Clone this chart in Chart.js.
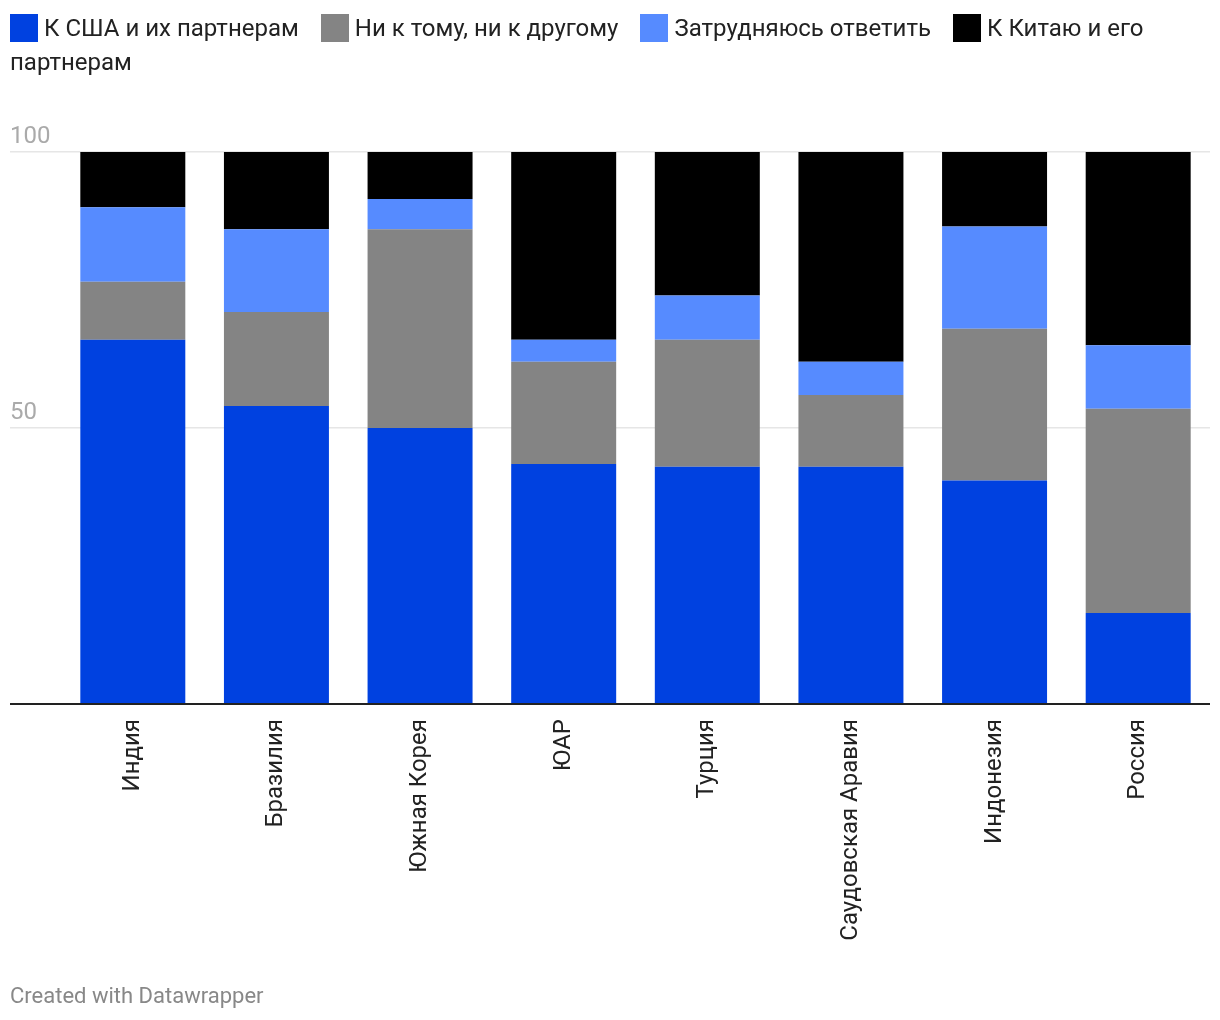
<!DOCTYPE html>
<html>
<head>
<meta charset="utf-8">
<script src="https://cdn.jsdelivr.net/npm/chart.js@4"></script>
<style>
  html, body { margin: 0; padding: 0; background: #fff; }
  body { width: 1220px; height: 1020px; position: relative; overflow: hidden; font-family: Roboto, "Noto Sans", sans-serif; }
  #legend { position: absolute; left: 10px; top: 11px; width: 1200px; font-size: 24px; line-height: 34px; color: #222; }
  #legend .sw { display: inline-block; width: 28px; height: 28px; vertical-align: -6px; margin-right: 6px; }
  #legend .item { margin-right: 22px; }
  #footer { position: absolute; left: 10px; top: 983px; font-size: 22px; color: #888; }
  #wrap { position: absolute; left: 0; top: 0; width: 1220px; height: 1020px; }
</style>
</head>
<body>
<div id="wrap"><canvas id="c" width="1220" height="1020"></canvas></div>
<div id="legend"></div>
<div id="footer">Created with Datawrapper</div>
<script>
const categories = ["Индия", "Бразилия", "Южная Корея", "ЮАР", "Турция", "Саудовская Аравия", "Индонезия", "Россия"];
const seriesNames = ["К США и их партнерам", "Ни к тому, ни к другому", "Затрудняюсь ответить", "К Китаю и его партнерам"];
const usa     = [66,   54, 50,   43.5, 43, 43, 40.5, 16.5];
const neither = [10.5, 17, 36,   18.5, 23, 13, 27.5, 37];
const unsure  = [13.5, 15,  5.5,  4,    8,  6, 18.5, 11.5];
const china   = [10,   14,  8.5, 34,   26, 38, 13.5, 35];
const yTicks = [50, 100];
const colors = ["#0041e0", "#848484", "#568bff", "#000000"];

const values = [usa, neither, unsure, china];

// HTML legend
const lg = document.getElementById('legend');
lg.innerHTML = seriesNames.map((n, i) =>
  '<span class="item"><span class="sw" style="background:' + colors[i] + '"></span>' + n + '</span>'
).join('');

new Chart(document.getElementById('c'), {
  type: 'bar',
  data: {
    labels: categories,
    datasets: seriesNames.map((n, i) => ({
      label: n,
      data: values[i],
      backgroundColor: colors[i],
      borderWidth: 0,
      categoryPercentage: 1,
      barPercentage: 0.731
    }))
  },
  options: {
    responsive: false,
    animation: false,
    layout: { padding: { left: 10, right: 10, top: 152, bottom: 0 } },
    plugins: { legend: { display: false }, tooltip: { enabled: false } },
    scales: {
      x: {
        stacked: true,
        grid: { display: false, drawTicks: false },
        border: { display: false },
        ticks: {
          minRotation: 90, maxRotation: 90, padding: 15,
          color: '#222',
          font: { family: 'Roboto', size: 24 }
        },
        afterFit: (s) => { s.height = 1020 - 704; }
      },
      y: {
        stacked: true,
        min: 0, max: 100,
        afterBuildTicks: (s) => { s.ticks = [0].concat(yTicks).map(v => ({ value: v })); },
        grid: {
          color: (ctx) => ctx.tick && ctx.tick.value === 0 ? '#222' : '#e6e6e6',
          lineWidth: (ctx) => ctx.tick && ctx.tick.value === 0 ? 2 : 1.5,
          tickLength: 51,
          drawTicks: true
        },
        border: { display: false },
        ticks: {
          crossAlign: 'far',
          labelOffset: -15,
          padding: 0,
          color: '#aaa',
          font: { family: 'Roboto', size: 24 },
          callback: (v) => v === 0 ? '' : String(v)
        },
        afterFit: (s) => { s.width = 51; }
      }
    }
  }
});
</script>
</body>
</html>
